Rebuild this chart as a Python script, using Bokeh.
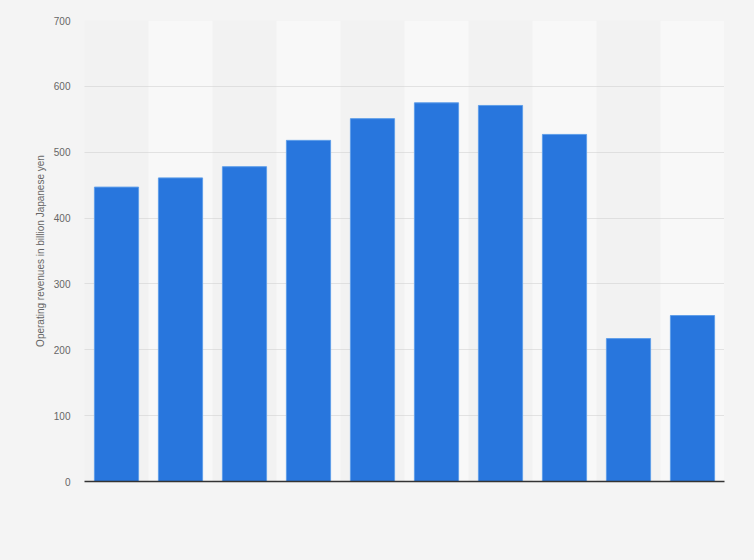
from bokeh.embed import file_html
from bokeh.models import Range1d, FixedTicker
from bokeh.plotting import figure
from bokeh.resources import INLINE

# one bar per year (billion yen)
positions = [1, 2, 3, 4, 5, 6, 7, 8, 9, 10]
revenues = [447, 461, 478, 518, 551, 575, 571, 527, 217, 252]
y_ticks = [0, 100, 200, 300, 400, 500, 600, 700]

BLUE = "#2876dd"
PAGE = "#f4f4f4"


def plot():
    p = figure(width=754, height=560,
               output_backend="svg",
               toolbar_location=None,
               x_range=Range1d(0.5, 10.5),
               y_range=Range1d(0, 700),
               min_border_left=84, min_border_right=30,
               min_border_top=20, min_border_bottom=79)

    p.background_fill_color = "#f2f2f2"
    p.border_fill_color = PAGE
    p.outline_line_color = None

    # lighter stripe behind every second bar, kept under the grid
    light = positions[1::2]
    p.vbar(x=light, top=[y_ticks[-1]] * len(light), width=1.0,
           fill_color="#f8f8f8", line_color=None, level="image")

    p.vbar(x=positions, top=revenues, width=0.69,
           fill_color=BLUE, line_color="#5f9ee9", line_width=1)

    p.xgrid.visible = False
    p.ygrid.ticker = FixedTicker(ticks=y_ticks)
    p.ygrid.grid_line_color = "#cccccc"
    p.ygrid.grid_line_dash = "1 1"
    p.ygrid.grid_line_width = 1

    # no category labels under the bars, only the base line
    p.xaxis.ticker = FixedTicker(ticks=[])
    p.xaxis.major_tick_line_color = None
    p.xaxis.minor_tick_line_color = None
    p.xaxis.axis_line_color = "#333333"
    p.xaxis.axis_line_width = 1.5

    p.yaxis.ticker = FixedTicker(ticks=y_ticks)
    p.yaxis.axis_line_color = None
    p.yaxis.major_tick_line_color = None
    p.yaxis.minor_tick_line_color = None
    p.yaxis.major_label_standoff = 8
    p.yaxis.major_label_text_font = "Liberation Sans"
    p.yaxis.major_label_text_font_size = "10px"
    p.yaxis.major_label_text_color = "#666666"
    p.yaxis.axis_label = "Operating revenues in billion Japanese yen"
    p.yaxis.axis_label_text_font = "Liberation Sans"
    p.yaxis.axis_label_text_font_size = "10px"
    p.yaxis.axis_label_text_font_style = "normal"
    p.yaxis.axis_label_text_color = "#666666"
    p.yaxis.axis_label_standoff = 5

    return p


p = plot()
html = file_html(p, INLINE)
html = html.replace("<head>", "<head><style>body{background:%s}</style>" % PAGE, 1)
open("out.html", "w").write(html)
